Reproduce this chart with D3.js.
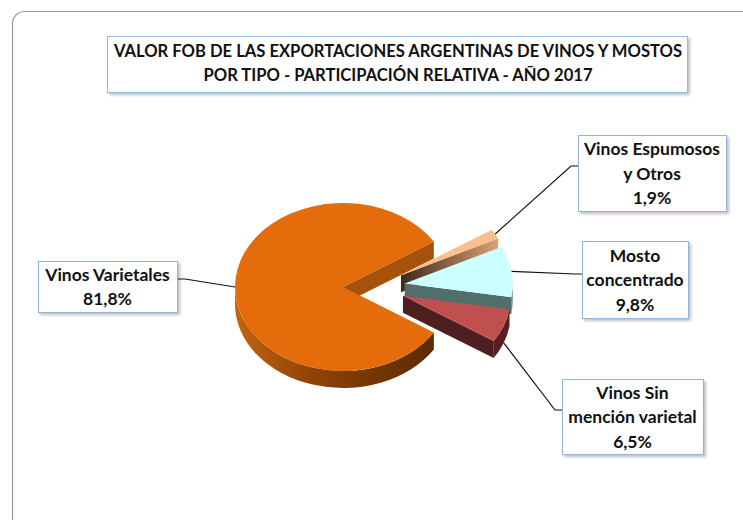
<!DOCTYPE html>
<html>
<head>
<meta charset="utf-8">
<script src="https://cdn.jsdelivr.net/npm/d3@7"></script>
<style>
  body { margin: 0; background: #fff; }
  text { font-family: Lato, 'Open Sans', sans-serif; font-weight: bold; fill: #111; }
</style>
</head>
<body>
<div id="chart"></div>
<script>
// data
let categories = ['Vinos Varietales', 'Vinos Espumosos y Otros', 'Mosto concentrado', 'Vinos Sin mención varietal']
let shares = [81.8, 1.9, 9.8, 6.5]
let nameLines = [['Vinos Varietales'], ['Vinos Espumosos', 'y Otros'], ['Mosto', 'concentrado'], ['Vinos Sin', 'mención varietal']]
let titleLines = ['VALOR FOB DE LAS EXPORTACIONES ARGENTINAS DE VINOS Y MOSTOS', 'POR TIPO - PARTICIPACIÓN RELATIVA - AÑO 2017']

// styles
let topColors = ['#E46C0A', '#F9BF8C', '#CCFFFF', '#C0504D']
let cutColors = ['#A5520A', 'url(#gEsp)', '#4F6E6C', '#4E1E20']
let rimColors = ['url(#gOr)', '#C8946A', '#5E7E7C', '#571F22']
// label boxes: x, y, w, h, y where the leader line reaches the box
let boxes = [
  { x: 38, y: 261, w: 139, h: 51, ay: 279 },
  { x: 578, y: 135, w: 148, h: 76, ay: 166 },
  { x: 582, y: 241, w: 106, h: 77, ay: 274 },
  { x: 562, y: 379, w: 141, h: 75, ay: 410 }
]

let width = 743, height = 520
let svg = d3.select('#chart').append('svg')
  .attr('width', width)
  .attr('height', height)

let defs = svg.append('defs')
let shadow = defs.append('filter').attr('id', 'shadow')
  .attr('x', '-10%').attr('y', '-10%').attr('width', '130%').attr('height', '140%')
shadow.append('feDropShadow')
  .attr('dx', 2).attr('dy', 2).attr('stdDeviation', 1.5)
  .attr('flood-color', '#000').attr('flood-opacity', 0.25)

let cx = 374, cy = 287, rx = 108, ry = 84, depth = 17, explode = 31
let k = ry / rx

let gOr = defs.append('linearGradient').attr('id', 'gOr')
  .attr('gradientUnits', 'userSpaceOnUse')
  .attr('x1', cx - explode - rx).attr('x2', cx - explode + rx).attr('y1', 0).attr('y2', 0)
gOr.append('stop').attr('offset', 0).attr('stop-color', '#C4640F')
gOr.append('stop').attr('offset', 0.35).attr('stop-color', '#8E4407')
gOr.append('stop').attr('offset', 1).attr('stop-color', '#552600')

// frame
svg.append('rect')
  .attr('x', 12.5).attr('y', 11.5)
  .attr('width', 780).attr('height', 560)
  .attr('rx', 12)
  .attr('fill', '#fff')
  .attr('stroke', '#999')
  .attr('stroke-width', 1.2)

// title
svg.append('rect')
  .attr('x', 107.5).attr('y', 36.5)
  .attr('width', 580).attr('height', 56)
  .attr('fill', '#fff')
  .attr('stroke', '#9BB7D9')
  .attr('filter', 'url(#shadow)')
svg.selectAll('.title')
  .data(titleLines)
  .enter()
  .append('text')
  .attr('class', 'title')
  .attr('x', 398)
  .attr('y', (d, i) => 57 + i * 24)
  .attr('text-anchor', 'middle')
  .style('font-size', '16.6px')
  .text(d => d)

// pie geometry
let total = d3.sum(shares)
let start = Math.PI / 2 + Math.PI * (1 - shares[0] / total)
let pie = d3.pie().sort(null).startAngle(start).endAngle(start + 2 * Math.PI)
let arcs = pie(shares)
let topArc = d3.arc().innerRadius(0).outerRadius(rx)

let pt = (o, a, dz) => [o.x + rx * Math.cos(a), o.y + ry * Math.sin(a) + (dz || 0)]

arcs.forEach(d => {
  d.mid = (d.startAngle + d.endAngle) / 2 - Math.PI / 2
  d.a0 = d.startAngle - Math.PI / 2
  d.a1 = d.endAngle - Math.PI / 2
  d.o = { x: cx + explode * Math.cos(d.mid), y: cy + explode * k * Math.sin(d.mid) }
})

// gradient for the thin slice's cut face
let esp = arcs[1]
let gEsp = defs.append('linearGradient').attr('id', 'gEsp')
  .attr('gradientUnits', 'userSpaceOnUse')
  .attr('x1', esp.o.x).attr('x2', pt(esp.o, esp.a1)[0]).attr('y1', 0).attr('y2', 0)
gEsp.append('stop').attr('offset', 0).attr('stop-color', '#3E2A1A')
gEsp.append('stop').attr('offset', 1).attr('stop-color', '#D9A273')

let pieG = svg.append('g')

let cutPath = (d, a) => {
  let p = pt(d.o, a), q = pt(d.o, a, depth)
  return `M${d.o.x},${d.o.y} L${p[0]},${p[1]} L${q[0]},${q[1]} L${d.o.x},${d.o.y + depth} Z`
}
let rimPath = (d, a, b) => {
  let p = pt(d.o, a), q = pt(d.o, b), p2 = pt(d.o, a, depth), q2 = pt(d.o, b, depth)
  let large = b - a > Math.PI ? 1 : 0
  return `M${p[0]},${p[1]} A${rx},${ry} 0 ${large} 1 ${q[0]},${q[1]} L${q2[0]},${q2[1]} A${rx},${ry} 0 ${large} 0 ${p2[0]},${p2[1]} Z`
}

// draw back slices first
let order = d3.range(arcs.length).sort((a, b) => {
  if (a === 0) return -1
  if (b === 0) return 1
  return Math.sin(arcs[a].mid) - Math.sin(arcs[b].mid)
})

order.forEach(i => {
  let d = arcs[i]
  let g = pieG.append('g')
  // visible cut faces
  if (Math.cos(d.a1) > 0) g.append('path').attr('d', cutPath(d, d.a1)).attr('fill', cutColors[i])
  if (Math.cos(d.a0) < 0) g.append('path').attr('d', cutPath(d, d.a0)).attr('fill', cutColors[i])
  // front rim
  ;[[0, Math.PI], [2 * Math.PI, 3 * Math.PI]].forEach(w => {
    let a = Math.max(d.a0, w[0]), b = Math.min(d.a1, w[1])
    if (b > a) g.append('path').attr('d', rimPath(d, a, b)).attr('fill', rimColors[i])
  })
  g.append('path')
    .attr('d', topArc(d))
    .attr('transform', `translate(${d.o.x},${d.o.y}) scale(1,${k})`)
    .attr('fill', topColors[i])
})

// labels
let fmt = d3.formatLocale({ decimal: ',', thousands: '.', grouping: [3], currency: ['$', ''] }).format('.1f')
let lh = 24.5

arcs.forEach((d, i) => {
  let b = boxes[i]
  let anchor = pt(d.o, d.mid, Math.sin(d.mid) > 0.2 ? depth : 0)
  let right = b.x > cx
  let ex = right ? b.x - 7 : b.x + b.w + 8
  let edge = right ? b.x : b.x + b.w
  svg.append('path')
    .attr('d', d3.line()([anchor, [ex, b.ay], [edge, b.ay]]))
    .attr('fill', 'none')
    .attr('stroke', '#111')
    .attr('stroke-width', 1.2)

  svg.append('rect')
    .attr('x', b.x + 0.5).attr('y', b.y + 0.5)
    .attr('width', b.w).attr('height', b.h)
    .attr('fill', '#fff')
    .attr('stroke', '#95B3D7')
    .attr('filter', 'url(#shadow)')

  let lines = nameLines[i].concat([fmt(shares[i]) + '%'])
  let y0 = b.y + b.h / 2 - (lines.length - 1) * lh / 2 + 6.5
  svg.append('text')
    .attr('text-anchor', 'middle')
    .style('font-size', '17.5px')
    .selectAll('tspan')
    .data(lines)
    .enter()
    .append('tspan')
    .attr('x', b.x + b.w / 2)
    .attr('y', (t, j) => y0 + j * lh)
    .text(t => t)
})
</script>
</body>
</html>
